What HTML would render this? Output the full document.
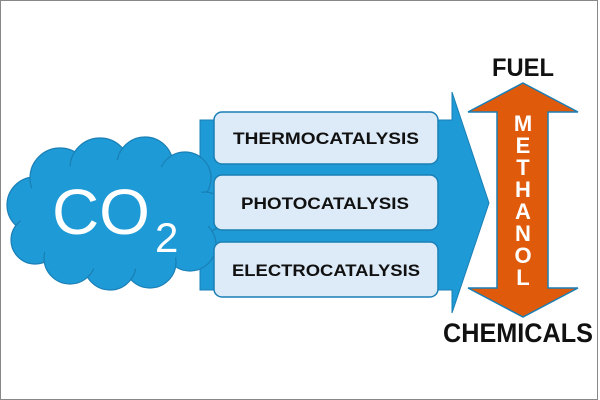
<!DOCTYPE html>
<html><head><style>body{margin:0;background:#fff}svg{display:block}</style></head><body>
<svg width="600" height="400" viewBox="0 0 600 400" xmlns="http://www.w3.org/2000/svg">
<rect x="0.5" y="0.5" width="597" height="399" fill="#fff" stroke="#888" stroke-width="1"/>
<polygon points="200,120 452,120 452,92 489,203 452,313 452,290 200,290" fill="#1e9ad6" stroke="#1a7fb5" stroke-width="1"/>
<g fill="#1e9ad6" stroke="#1a7fb5" stroke-width="1.2">
<circle cx="35" cy="205" r="28"/><circle cx="35" cy="240" r="24"/>
<circle cx="60" cy="178" r="30"/><circle cx="100" cy="168" r="30"/>
<circle cx="145" cy="165" r="28"/><circle cx="185" cy="178" r="26"/>
<circle cx="205" cy="212" r="20"/><circle cx="190" cy="245" r="26"/>
<circle cx="150" cy="262" r="26"/><circle cx="110" cy="264" r="26"/>
<circle cx="70" cy="258" r="26"/>
</g>
<ellipse cx="115" cy="215" rx="95" ry="55" fill="#1e9ad6"/>
<text x="52" y="234" font-family="Liberation Sans, sans-serif" font-size="64" fill="#fff" textLength="98" lengthAdjust="spacingAndGlyphs">CO</text>
<text x="155" y="252" font-family="Liberation Sans, sans-serif" font-size="42" fill="#fff">2</text>
<g fill="#ddeaf7" stroke="#1a7fb5" stroke-width="1.5">
<rect x="214" y="112" width="224" height="52" rx="8"/>
<rect x="214" y="175" width="224" height="55" rx="8"/>
<rect x="214" y="242" width="224" height="55" rx="8"/>
</g>
<g font-family="Liberation Sans, sans-serif" font-weight="bold" font-size="17" fill="#111" lengthAdjust="spacingAndGlyphs">
<text x="233" y="144" textLength="186" lengthAdjust="spacingAndGlyphs">THERMOCATALYSIS</text>
<text x="241" y="209" textLength="168" lengthAdjust="spacingAndGlyphs">PHOTOCATALYSIS</text>
<text x="232" y="276" textLength="188" lengthAdjust="spacingAndGlyphs">ELECTROCATALYSIS</text>
</g>
<polygon points="523,83 578,112 548,112 548,288 578,288 523,317 468,288 497,288 497,112 468,112" fill="#e05a0c" stroke="#1a7fb5" stroke-width="1.5"/>
<g font-family="Liberation Sans, sans-serif" font-weight="bold" font-size="22" fill="#fff" text-anchor="middle">
<text x="523" y="131">M</text><text x="523" y="153">E</text><text x="523" y="175">T</text>
<text x="523" y="197">H</text><text x="523" y="219">A</text><text x="523" y="241">N</text>
<text x="523" y="263">O</text><text x="523" y="285">L</text>
</g>
<g font-family="Liberation Sans, sans-serif" font-weight="bold" fill="#111">
<text x="492" y="76" font-size="25" textLength="62" lengthAdjust="spacingAndGlyphs">FUEL</text>
<text x="443" y="342" font-size="27" textLength="150" lengthAdjust="spacingAndGlyphs">CHEMICALS</text>
</g>
</svg>
</body></html>
